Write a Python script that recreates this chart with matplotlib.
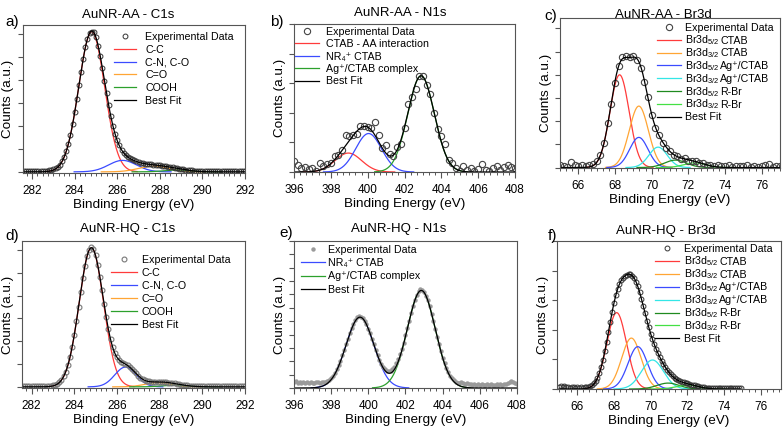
import numpy as np
import matplotlib
matplotlib.use("Agg")
from matplotlib import pyplot as plt
from matplotlib.lines import Line2D
from matplotlib.ticker import MultipleLocator

plt.rcParams['font.family'] = ['Liberation Sans', 'DejaVu Sans']
plt.rcParams['mathtext.fontset'] = 'custom'
plt.rcParams['mathtext.rm'] = 'Liberation Sans'
plt.rcParams['mathtext.it'] = 'Liberation Sans:italic'

W, H = 784, 433

# C1s spectra, 281.6 -> 292.0 eV, 0.1 eV step
c1s_aa = [0.03, 0.02, 0.03, 0.02, 0.03, 0.02, 0.03, 0.03, 0.02, 0.03,
          0.04, 0.05, 0.06, 0.08, 0.11, 0.15, 0.22, 0.32, 0.46, 0.65,
          0.90, 1.22, 1.61, 2.07, 2.60, 3.18, 3.78, 4.37, 4.93, 5.42,
          5.80, 6.04, 6.11, 6.08, 5.86, 5.50, 5.05, 4.52, 3.97, 3.42,
          2.90, 2.42, 2.00, 1.65, 1.37, 1.15, 0.97, 0.84, 0.74, 0.66,
          0.59, 0.54, 0.50, 0.46, 0.43, 0.40, 0.38, 0.36, 0.35, 0.34,
          0.33, 0.32, 0.31, 0.30, 0.28, 0.27, 0.26, 0.24, 0.23, 0.21,
          0.19, 0.18, 0.16, 0.14, 0.13, 0.11, 0.10, 0.08, 0.07, 0.06,
          0.05, 0.04, 0.04, 0.03, 0.03, 0.03, 0.02, 0.03, 0.02, 0.03,
          0.02, 0.03, 0.02, 0.03, 0.02, 0.03, 0.02, 0.03, 0.02, 0.03,
          0.02, 0.03, 0.02, 0.03, 0.02]
c1s_hq = [0.03, 0.04, 0.03, 0.04, 0.03, 0.04, 0.03, 0.04, 0.03, 0.04,
          0.03, 0.04, 0.04, 0.05, 0.07, 0.09, 0.14, 0.21, 0.31, 0.46,
          0.67, 0.96, 1.32, 1.76, 2.29, 2.88, 3.52, 4.16, 4.78, 5.32,
          5.75, 6.02, 6.12, 6.03, 5.77, 5.35, 4.83, 4.24, 3.64, 3.05,
          2.53, 2.09, 1.74, 1.49, 1.31, 1.19, 1.11, 1.06, 1.01, 0.95,
          0.87, 0.79, 0.69, 0.59, 0.49, 0.41, 0.35, 0.30, 0.26, 0.24,
          0.23, 0.23, 0.23, 0.22, 0.22, 0.21, 0.21, 0.20, 0.19, 0.18,
          0.16, 0.15, 0.13, 0.12, 0.10, 0.09, 0.07, 0.06, 0.05, 0.05,
          0.04, 0.04, 0.03, 0.04, 0.03, 0.04, 0.03, 0.04, 0.03, 0.04,
          0.03, 0.04, 0.03, 0.04, 0.03, 0.04, 0.03, 0.04, 0.03, 0.04,
          0.03, 0.04, 0.03, 0.04, 0.03]

# N1s AA, 396.0 -> 408.0 eV, 0.2 eV step
n1s_aa = [0.36, 0.22, 0.12, 0.18, 0.10,
          0.15, 0.05, 0.30, 0.20, 0.28,
          0.30, 0.55, 0.56, 0.75, 1.25,
          1.20, 1.24, 1.28, 1.54, 1.56,
          1.52, 1.48, 1.70, 1.26, 0.82,
          0.90, 0.62, 0.55, 0.85, 0.95,
          1.50, 2.30, 2.55, 2.80, 3.25,
          3.25, 2.95, 2.65, 2.00, 1.45,
          1.20, 0.95, 0.40, 0.30, 0.15,
          0.05, 0.20, 0.08, 0.12, 0.05,
          0.10, 0.28, 0.06, 0.02, 0.12,
          0.20, 0.08, 0.16, 0.25, 0.18,
          0.12]

# N1s HQ, 396.0 -> 408.0 eV, 0.1 eV step
n1s_hq = [0.45, 0.50, 0.38, 0.42, 0.35, 0.48, 0.40, 0.44, 0.36, 0.45,
          0.40, 0.38, 0.46, 0.42, 0.40, 0.45, 0.42, 0.48, 0.55, 0.62,
          0.75, 0.92, 1.12, 1.40, 1.70, 2.05, 2.45, 2.85, 3.30, 3.70,
          4.12, 4.50, 4.80, 5.10, 5.35, 5.40, 5.35, 5.25, 5.05, 4.78,
          4.45, 4.10, 3.70, 3.28, 2.85, 2.48, 2.12, 1.80, 1.55, 1.40,
          1.30, 1.25, 1.28, 1.40, 1.60, 1.90, 2.20, 2.55, 2.95, 3.40,
          3.95, 4.50, 5.05, 5.62, 6.15, 6.60, 6.98, 7.25, 7.40, 7.35,
          7.20, 6.92, 6.55, 6.10, 5.55, 5.00, 4.40, 3.85, 3.28, 2.75,
          2.28, 1.85, 1.48, 1.18, 0.92, 0.72, 0.58, 0.48, 0.40, 0.36,
          0.45, 0.38, 0.30, 0.35, 0.28, 0.32, 0.26, 0.30, 0.25, 0.28,
          0.24, 0.30, 0.26, 0.22, 0.28, 0.25, 0.30, 0.22, 0.26, 0.28,
          0.24, 0.30, 0.26, 0.28, 0.32, 0.40, 0.48, 0.55, 0.42, 0.35,
          0.30]

# Br3d AA, 65.0 -> 77.0 eV, 0.2 eV step
br_aa = [0.10, 0.08, 0.03, 0.22, 0.12,
         0.05, 0.10, 0.06, 0.12, 0.15,
         0.30, 0.55, 1.05, 1.90, 2.75,
         3.65, 4.40, 4.75, 4.80, 4.78,
         4.80, 4.65, 4.30, 3.70, 3.05,
         2.25, 1.70, 1.40, 1.05, 0.85,
         0.72, 0.55, 0.48, 0.38, 0.40,
         0.30, 0.28, 0.30, 0.18, 0.20,
         0.10, 0.12, 0.05, 0.10, 0.06,
         0.05, 0.10, 0.04, 0.08, 0.06,
         0.05, 0.10, 0.04, 0.08, 0.03,
         0.05, 0.10, 0.15, 0.04, 0.07,
         0.05]

# Br3d HQ, 65.0 -> 74.9 eV, 0.1 eV step
br_hq = [0.08, 0.10, 0.07, 0.09, 0.06, 0.08, 0.05, 0.07, 0.06, 0.05,
         0.06, 0.05, 0.06, 0.05, 0.06, 0.07, 0.08, 0.10, 0.13, 0.19,
         0.27, 0.38, 0.54, 0.74, 0.99, 1.27, 1.59, 1.93, 2.27, 2.60,
         2.90, 3.16, 3.38, 3.55, 3.67, 3.76, 3.83, 3.86, 3.88, 3.87,
         3.83, 3.75, 3.63, 3.47, 3.27, 3.05, 2.80, 2.56, 2.31, 2.08,
         1.87, 1.68, 1.51, 1.35, 1.21, 1.08, 0.96, 0.85, 0.74, 0.65,
         0.57, 0.49, 0.43, 0.38, 0.33, 0.30, 0.27, 0.24, 0.22, 0.20,
         0.19, 0.17, 0.15, 0.14, 0.12, 0.11, 0.09, 0.08, 0.07, 0.06,
         0.05, 0.05, 0.04, 0.05, 0.04, 0.05, 0.04, 0.05, 0.04, 0.05,
         0.04, 0.05, 0.04, 0.05, 0.04, 0.05, 0.04, 0.05, 0.04, 0.05]

# ---- fitted components: centre (eV), height, gaussian sigma ----
c1s_aa_pos = [284.8, 286.25, 287.7, 288.8]
c1s_aa_h = [6.1, 0.5, 0.25, 0.08]
c1s_aa_w = [0.61, 0.65, 0.7, 0.6]
c1s_hq_pos = [284.8, 286.4, 287.9, 288.7]
c1s_hq_h = [6.1, 0.87, 0.18, 0.07]
c1s_hq_w = [0.57, 0.5, 0.6, 0.6]
c1s_labels = ['C-C', 'C-N, C-O', 'C=O', 'COOH']

n1s_aa_pos = [398.95, 400.05, 402.9]
n1s_aa_h = [0.64, 1.3, 3.25]
n1s_aa_w = [0.72, 0.7, 0.72]
n1s_aa_labels = ['CTAB - AA interaction', 'NR\u2084\u207a CTAB', 'Ag\u207a/CTAB complex']
n1s_hq_pos = [399.55, 402.85]
n1s_hq_h = [5.3, 7.3]
n1s_hq_w = [0.75, 0.75]
n1s_hq_labels = ['NR\u2084\u207a CTAB', 'Ag\u207a/CTAB complex']

br_aa_pos = [68.25, 69.3, 69.3, 70.35, 71.3, 72.35]
br_aa_h = [4.0, 2.65, 1.3, 0.88, 0.32, 0.2]
br_aa_w = [0.52, 0.52, 0.5, 0.5, 0.6, 0.6]
br_hq_pos = [68.15, 68.95, 69.3, 70.1, 70.95, 72.0]
br_hq_h = [2.58, 1.72, 1.43, 0.98, 0.2, 0.13]
br_hq_w = [0.53, 0.53, 0.53, 0.6, 0.6, 0.6]
# (subscripted part, rest of the label)
br_labels = [(r'Br3d$_{5/2}$', 'CTAB'), (r'Br3d$_{3/2}$', 'CTAB'),
             (r'Br3d$_{5/2}$', 'Ag\u207a/CTAB'), (r'Br3d$_{3/2}$', 'Ag\u207a/CTAB'),
             (r'Br3d$_{5/2}$', 'R-Br'), (r'Br3d$_{3/2}$', 'R-Br')]

RED, BLUE, ORANGE, GREEN = '#ff3b3b', '#3b4bff', '#ffa534', '#2ca02c'
CYAN, DKGREEN, LIME = '#33e6e6', '#1f8a1f', '#44e044'


def gauss(x, c, h, w):
    return h * np.exp(-0.5 * ((x - c) / w) ** 2)


def make_axes(fig, left, top, right, bottom):
    return fig.add_axes([left / W, 1 - bottom / H, (right - left) / W, (bottom - top) / H])


def legend_rows(fig, entries, x1, x2, xt, y0, dy):
    # hand-placed legend so every row gets the same height
    renderer = fig.canvas.get_renderer()
    for i, (kind, style, text) in enumerate(entries):
        y = 1 - (y0 + i * dy) / H
        if kind == 'marker':
            fig.add_artist(Line2D([(x1 + x2) / 2 / W], [y], linestyle='none',
                                  transform=fig.transFigure, **style))
        else:
            fig.add_artist(Line2D([x1 / W, x2 / W], [y, y], transform=fig.transFigure, **style))
        parts = text if isinstance(text, tuple) else (text,)
        x = xt
        for p in parts:
            t = fig.text(x / W, y - 3.8 / H, p, fontsize=7.7, ha='left', va='baseline')
            x += t.get_window_extent(renderer).width + 0.5


def panel(ax, x0, step, vals, pos, hts, wds, colors, labels, mstyle,
          xlim, ylim, minor, leg):
    xd = x0 + step * np.arange(len(vals))
    entries = [('marker', mstyle, 'Experimental Data')]
    for c, h, w, col, lab in zip(pos, hts, wds, colors, labels):
        xx = np.linspace(c - 3.5 * w, c + 3.5 * w, 200)
        ax.plot(xx, gauss(xx, c, h, w), color=col, lw=0.9)
        entries.append(('line', dict(color=col, lw=0.9), lab))
    ax.plot(xd, vals, linestyle='none', **mstyle)
    xf = np.linspace(xd[0], xd[-1], 800)
    fit = sum(gauss(xf, c, h, w) for c, h, w in zip(pos, hts, wds))
    ax.plot(xf, fit, color='black', lw=0.9)
    entries.append(('line', dict(color='black', lw=0.9), 'Best Fit'))
    legend_rows(fig, entries, *leg)

    ax.set_xlim(*xlim)
    ax.set_ylim(*ylim)
    ax.xaxis.set_major_locator(MultipleLocator(2))
    ax.xaxis.set_minor_locator(MultipleLocator(minor))
    ax.yaxis.set_major_locator(MultipleLocator(1))
    ax.tick_params(axis='y', direction='out', length=3.5, width=0.8, labelleft=False, color='#555555')
    ax.tick_params(axis='x', which='major', direction='out', length=4, width=0.8, pad=4.5,
                   labelsize=8.5, color='#555555')
    ax.tick_params(axis='x', which='minor', direction='out', length=2.3, width=0.7, color='#555555')
    for s in ax.spines.values():
        s.set_color('#555555')
        s.set_linewidth(0.8)
    ax.set_xlabel('Binding Energy (eV)', fontsize=9.7, labelpad=1.5)
    ax.set_ylabel('Counts (a.u.)', fontsize=9.7, labelpad=2.5)


fig = plt.figure(figsize=(W / 100, H / 100), dpi=100)

open_dark = dict(marker='o', ms=3.5, mfc='none', mec='#333333', mew=0.7)
open_mid = dict(marker='o', ms=4.5, mfc='none', mec='#444444', mew=0.8)
open_grey = dict(marker='o', ms=3.5, mfc='none', mec='#777777', mew=0.8)
grey_dots = dict(marker='o', ms=3.2, mfc='#9a9a9a', mec='#9a9a9a', mew=0)

# a) AuNR-AA C1s
ax = make_axes(fig, 22.5, 25, 245, 173)
panel(ax, 281.6, 0.1, c1s_aa, c1s_aa_pos, c1s_aa_h, c1s_aa_w,
      [RED, BLUE, ORANGE, GREEN], c1s_labels, open_dark,
      (281.55, 292), (-0.05, 6.4), 0.25, (114, 136, 145, 36, 12.8))

# b) AuNR-AA N1s
ax = make_axes(fig, 294, 24, 515, 172)
panel(ax, 396.0, 0.2, n1s_aa, n1s_aa_pos, n1s_aa_h, n1s_aa_w,
      [RED, BLUE, GREEN], n1s_aa_labels, open_mid,
      (396, 408), (0, 5.0), 1 / 3, (295, 319, 326, 31, 12.4))

# c) AuNR-AA Br3d
ax = make_axes(fig, 560, 18, 780, 168)
panel(ax, 65.0, 0.2, br_aa, br_aa_pos, br_aa_h, br_aa_w,
      [RED, ORANGE, BLUE, CYAN, DKGREEN, LIME], br_labels, open_mid,
      (65, 77), (-0.02, 6.45), 1 / 3, (657, 681, 685, 27, 12.8))

# d) AuNR-HQ C1s
ax = make_axes(fig, 22, 241, 245, 388)
panel(ax, 281.6, 0.1, c1s_hq, c1s_hq_pos, c1s_hq_h, c1s_hq_w,
      [RED, BLUE, ORANGE, GREEN], c1s_labels, open_grey,
      (281.55, 292), (-0.05, 6.4), 0.25, (111, 137, 142, 259, 13.0))

# e) AuNR-HQ N1s
ax = make_axes(fig, 294, 241, 517, 388)
panel(ax, 396.0, 0.1, n1s_hq, n1s_hq_pos, n1s_hq_h, n1s_hq_w,
      [BLUE, GREEN], n1s_hq_labels, grey_dots,
      (396, 408), (0, 11.0), 1 / 3, (301, 325, 328, 249, 13.3))

# f) AuNR-HQ Br3d
ax = make_axes(fig, 557, 241, 781, 389)
panel(ax, 65.0, 0.1, br_hq, br_hq_pos, br_hq_h, br_hq_w,
      [RED, ORANGE, BLUE, CYAN, DKGREEN, LIME], br_labels, open_dark,
      (64.9, 77.1), (0, 5.0), 1 / 3, (655, 679, 684, 248, 12.9))

# titles and panel letters
titles = ['AuNR-AA - C1s', 'AuNR-AA - N1s', 'AuNR-AA - Br3d',
          'AuNR-HQ - C1s', 'AuNR-HQ - N1s', 'AuNR-HQ - Br3d']
title_xy = [(128, 15), (400, 13), (663, 15), (128, 229), (399, 229), (666, 231)]
letters = ['a)', 'b)', 'c)', 'd)', 'e)', 'f)']
letter_xy = [(12, 22), (277, 22), (551, 16), (12, 236), (286, 233), (553, 236)]
for t, (tx, ty) in zip(titles, title_xy):
    fig.text(tx / W, 1 - ty / H, t, fontsize=9.5, ha='center', va='center')
for t, (tx, ty) in zip(letters, letter_xy):
    fig.text(tx / W, 1 - ty / H, t, fontsize=11, ha='center', va='center')

fig.savefig('out.png', dpi=100)
